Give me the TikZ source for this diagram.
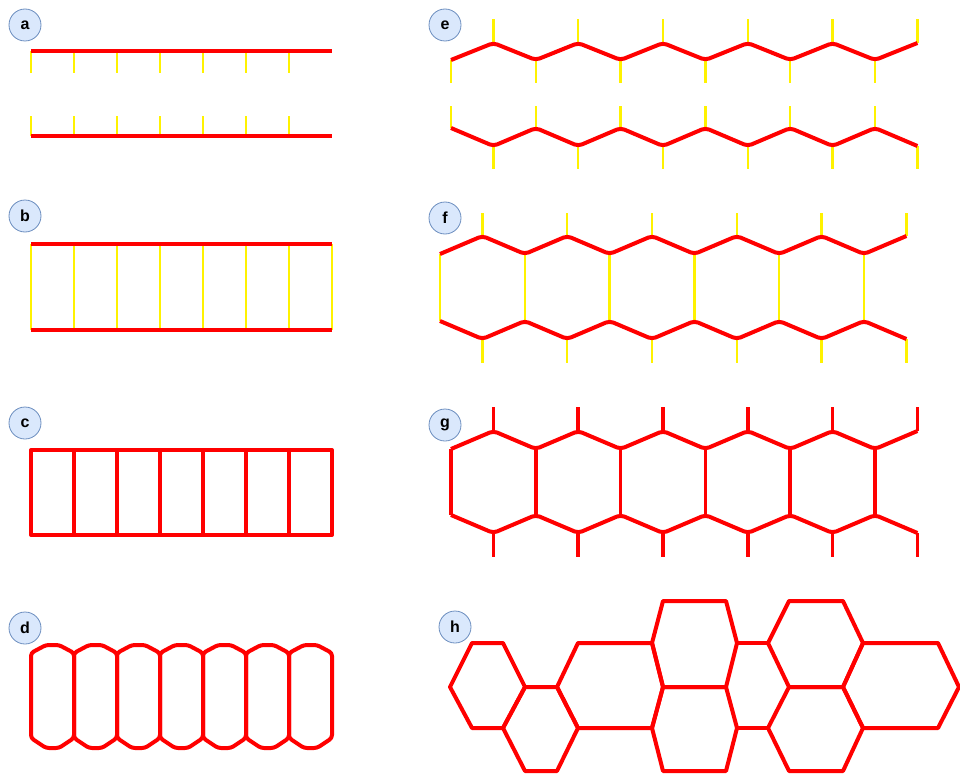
\documentclass[tikz,border=0pt]{standalone}
\usepackage{fontspec}
\setmainfont{Liberation Sans}
\definecolor{labelfill}{HTML}{DAE8FC}
\definecolor{labelborder}{HTML}{6C8EBF}
\tikzset{
  redline/.style={draw=red,line width=4pt,line join=round,rounded corners=4pt},
  yline/.style={draw=yellow,line width=2.5pt},
  redtick/.style={draw=red,line width=3.5pt},
  panel/.style={circle,draw=labelborder,fill=labelfill,line width=0.8pt,minimum size=32pt,inner sep=0pt,font=\bfseries\fontsize{16}{16}\selectfont}}

\begin{document}
\begin{tikzpicture}[x=1pt,y=-1pt]
  \useasboundingbox (0,0) rectangle (960,773);

  \node[panel] (la) at (25,25) {a};
  \node[panel] (lb) at (25,216) {b};
  \node[panel] (lc) at (25,423) {c};
  \node[panel] (ld) at (25,628) {d};
  \node[panel] (le) at (445,25) {e};
  \node[panel] (lf) at (445,218) {f};
  \node[panel] (lg) at (445,425) {g};
  \node[panel] (lh) at (455,627) {h};

  % a
  \foreach \k in {0,...,6} {
    \draw[yline] ({31+43*\k},51) -- ++(0,22);
    \draw[yline] ({31+43*\k},136) -- ++(0,-20);
  }
  \draw[redline] (31,51) -- (332,51);
  \draw[redline] (31,136) -- (332,136);

  % b
  \foreach \k in {0,...,7}
    \draw[yline] ({31+43*\k},244) -- ++(0,86);
  \draw[redline] (31,244) -- (332,244);
  \draw[redline] (31,330) -- (332,330);

  % c
  \draw[redline,rounded corners=0pt] (31,450) rectangle (332,535);
  \foreach \k in {1,...,6}
    \draw[redline] ({31+43*\k},450) -- ++(0,85);

  % d
  \foreach \k in {0,...,6}
    \draw[redline,rounded corners=3pt] ({31+43*\k},653) -- ++(15,-8) -- ++(13,0) -- ++(15,8)
      -- ++(0,85) -- ++(-15,10) -- ++(-13,0) -- ++(-15,-10) -- cycle;

  % e
  \foreach \i in {0,2,...,10} {
    \draw[yline] ({451+42.4*\i},60) -- ++(0,23);
    \draw[yline] ({451+42.4*\i},128) -- ++(0,-22);
  }
  \foreach \i in {1,3,...,11} {
    \draw[yline] ({451+42.4*\i},43) -- ++(0,-24);
    \draw[yline] ({451+42.4*\i},146) -- ++(0,23);
  }
  \draw[redline] (451,60) \foreach \i in {1,...,11} {-- ({451+42.4*\i},{ifthenelse(isodd(\i),43,60)})};
  \draw[redline] (451,128) \foreach \i in {1,...,11} {-- ({451+42.4*\i},{ifthenelse(isodd(\i),146,128)})};

  % f
  \foreach \i in {0,2,...,10}
    \draw[yline] ({440+42.4*\i},254) -- ++(0,67);
  \foreach \i in {1,3,...,11} {
    \draw[yline] ({440+42.4*\i},236) -- ++(0,-23);
    \draw[yline] ({440+42.4*\i},339) -- ++(0,24);
  }
  \draw[redline] (440,254) \foreach \i in {1,...,11} {-- ({440+42.4*\i},{ifthenelse(isodd(\i),236,254)})};
  \draw[redline] (440,321) \foreach \i in {1,...,11} {-- ({440+42.4*\i},{ifthenelse(isodd(\i),339,321)})};

  % g
  \foreach \i in {0,2,...,10}
    \draw[redtick] ({451+42.4*\i},449) -- ++(0,66);
  \foreach \i in {1,3,...,11} {
    \draw[redtick] ({451+42.4*\i},431) -- ++(0,-24);
    \draw[redtick] ({451+42.4*\i},533) -- ++(0,24);
  }
  \draw[redline] (451,449) \foreach \i in {1,...,11} {-- ({451+42.4*\i},{ifthenelse(isodd(\i),431,449)})};
  \draw[redline] (451,515) \foreach \i in {1,...,11} {-- ({451+42.4*\i},{ifthenelse(isodd(\i),533,515)})};

  % h
  \begin{scope}[redline,rounded corners=0pt]
    \draw (472,643) -- (503,643) -- (525,687) -- (503,728) -- (472,728) -- (450,687) -- cycle;
    \draw (525,687) -- (557,687) -- (578,728) -- (557,771) -- (525,771) -- (503,728) -- cycle;
    \draw (578,643) -- (652,643) -- (663,687) -- (652,728) -- (578,728) -- (557,687) -- cycle;
    \draw (663,601) -- (726,601) -- (737,643) -- (726,687) -- (663,687) -- (652,643) -- cycle;
    \draw (663,687) -- (726,687) -- (737,728) -- (726,771) -- (663,771) -- (652,728) -- cycle;
    \draw (737,643) -- (768,643);
    \draw (737,728) -- (768,728);
    \draw (789,601) -- (843,601) -- (863,643) -- (843,687) -- (789,687) -- (768,643) -- cycle;
    \draw (789,687) -- (843,687) -- (863,728) -- (843,771) -- (789,771) -- (768,728) -- cycle;
    \draw (863,643) -- (938,643) -- (959,687) -- (938,728) -- (863,728) -- (843,687) -- cycle;
  \end{scope}
\end{tikzpicture}
\end{document}
